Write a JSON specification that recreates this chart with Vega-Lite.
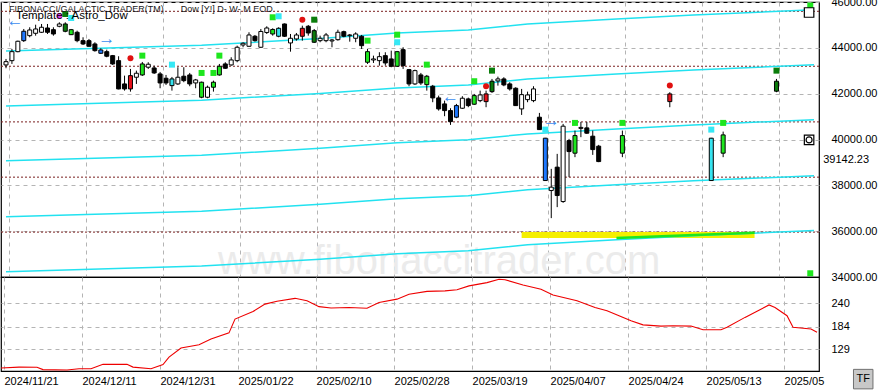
{
  "$schema": "https://vega.github.io/schema/vega-lite/v6.json",
  "background": "white",
  "padding": {"left": -2, "top": -5, "right": 0, "bottom": 0},
  "spacing": 0,
  "bounds": "flush",
  "config": {
    "view": {"stroke": "#000000", "strokeWidth": 1.2},
    "font": "Liberation Sans",
    "text": {"font": "Liberation Sans"},
    "axis": {"labelFont": "Liberation Sans", "labelColor": "#000000", "labelFontSize": 11}
  },
  "datasets": {
    "candles": [
      {"k":0,"t":"up","o":43253,"h":43515,"l":43109,"c":43397},
      {"k":1,"t":"up","o":43441,"h":43951,"l":43297,"c":43833},
      {"k":2,"t":"up","o":43833,"h":44313,"l":43807,"c":44287},
      {"k":3,"t":"blue","o":44313,"h":44823,"l":44256,"c":44723},
      {"k":4,"t":"up","o":44531,"h":44897,"l":44461,"c":44779},
      {"k":5,"t":"up","o":44635,"h":45010,"l":44531,"c":44823},
      {"k":6,"t":"up","o":44679,"h":45041,"l":44648,"c":44897},
      {"k":7,"t":"down","o":44866,"h":45041,"l":44605,"c":44679},
      {"k":8,"t":"down","o":44792,"h":44897,"l":44531,"c":44605},
      {"k":9,"t":"up","o":44941,"h":45115,"l":44897,"c":45041},
      {"k":10,"t":"darkgreen","o":44722,"h":45115,"l":44679,"c":45041},
      {"k":11,"t":"lime","o":44574,"h":44823,"l":44561,"c":44792},
      {"k":12,"t":"down","o":44679,"h":44749,"l":44243,"c":44313},
      {"k":13,"t":"down","o":44313,"h":44461,"l":44125,"c":44169},
      {"k":14,"t":"down","o":44313,"h":44387,"l":44051,"c":44068},
      {"k":15,"t":"down","o":44169,"h":44243,"l":43833,"c":43877},
      {"k":16,"t":"blue","o":43763,"h":43981,"l":43733,"c":43907},
      {"k":17,"t":"down","o":43833,"h":43920,"l":43589,"c":43633},
      {"k":18,"t":"down","o":43659,"h":43689,"l":43253,"c":43297},
      {"k":19,"t":"down","o":43441,"h":43633,"l":42190,"c":42207},
      {"k":20,"t":"down","o":42425,"h":42787,"l":42133,"c":42207},
      {"k":21,"t":"red","o":42787,"h":43079,"l":42089,"c":42207},
      {"k":22,"t":"up","o":42717,"h":43005,"l":42425,"c":42891},
      {"k":23,"t":"lime","o":42817,"h":43384,"l":42774,"c":43297},
      {"k":24,"t":"up","o":43153,"h":43371,"l":43079,"c":43284},
      {"k":25,"t":"down","o":43122,"h":43223,"l":42861,"c":42905},
      {"k":26,"t":"down","o":42861,"h":42948,"l":42237,"c":42468},
      {"k":27,"t":"down","o":42673,"h":42817,"l":42381,"c":42468},
      {"k":28,"t":"cyan","o":42351,"h":42730,"l":42133,"c":42643},
      {"k":29,"t":"up","o":42425,"h":43153,"l":42381,"c":42717},
      {"k":30,"t":"down","o":42761,"h":43153,"l":42499,"c":42569},
      {"k":31,"t":"down","o":42817,"h":42905,"l":42325,"c":42425},
      {"k":32,"t":"up","o":42468,"h":42643,"l":42237,"c":42599},
      {"k":33,"t":"lime","o":41845,"h":42525,"l":41801,"c":42499},
      {"k":34,"t":"up","o":41845,"h":42351,"l":41801,"c":42281},
      {"k":35,"t":"lime","o":42281,"h":42569,"l":42089,"c":42499},
      {"k":36,"t":"lime","o":42817,"h":43297,"l":42787,"c":43196},
      {"k":37,"t":"down","o":43297,"h":43371,"l":43079,"c":43109},
      {"k":38,"t":"up","o":43253,"h":43589,"l":43223,"c":43471},
      {"k":39,"t":"up","o":43441,"h":44095,"l":43371,"c":44025},
      {"k":40,"t":"up","o":44125,"h":44243,"l":44025,"c":44199},
      {"k":41,"t":"up","o":44068,"h":44679,"l":44051,"c":44561},
      {"k":42,"t":"down","o":44505,"h":44561,"l":44269,"c":44313},
      {"k":43,"t":"up","o":44025,"h":44823,"l":43995,"c":44714},
      {"k":44,"t":"up","o":44670,"h":44941,"l":44605,"c":44866},
      {"k":45,"t":"lime","o":44605,"h":44853,"l":44531,"c":44801},
      {"k":46,"t":"cyan","o":44505,"h":44897,"l":44461,"c":44853},
      {"k":47,"t":"down","o":45041,"h":45063,"l":44474,"c":44505},
      {"k":48,"t":"up","o":44213,"h":44605,"l":43833,"c":44417},
      {"k":49,"t":"up","o":44387,"h":44648,"l":44313,"c":44561},
      {"k":50,"t":"red","o":44505,"h":44967,"l":44313,"c":44853},
      {"k":51,"t":"down","o":44941,"h":44997,"l":44531,"c":44648},
      {"k":52,"t":"darkgreen","o":44243,"h":44823,"l":44212,"c":44749},
      {"k":53,"t":"up","o":44313,"h":44531,"l":44243,"c":44417},
      {"k":54,"t":"up","o":44313,"h":44648,"l":44243,"c":44561},
      {"k":55,"t":"up","o":44300,"h":44387,"l":44025,"c":44343},
      {"k":56,"t":"up","o":44356,"h":44792,"l":44313,"c":44679},
      {"k":57,"t":"down","o":44705,"h":44749,"l":44461,"c":44505},
      {"k":58,"t":"up","o":44531,"h":44605,"l":44269,"c":44561},
      {"k":59,"t":"up","o":44417,"h":44679,"l":44243,"c":44605},
      {"k":60,"t":"down","o":44505,"h":44561,"l":43951,"c":44095},
      {"k":61,"t":"lime","o":43371,"h":43951,"l":43297,"c":43833},
      {"k":62,"t":"up","o":43471,"h":43659,"l":43340,"c":43515},
      {"k":63,"t":"up","o":43441,"h":43807,"l":43223,"c":43615},
      {"k":64,"t":"down","o":43659,"h":43807,"l":43223,"c":43340},
      {"k":65,"t":"down","o":43515,"h":43877,"l":43153,"c":43196},
      {"k":66,"t":"lime","o":43196,"h":43864,"l":43166,"c":43833},
      {"k":67,"t":"down","o":43920,"h":44025,"l":43079,"c":43223},
      {"k":68,"t":"down","o":43048,"h":43079,"l":42325,"c":42425},
      {"k":69,"t":"up","o":42425,"h":43048,"l":42381,"c":43005},
      {"k":70,"t":"down","o":42817,"h":42905,"l":42381,"c":42468},
      {"k":71,"t":"lime","o":42394,"h":42817,"l":42133,"c":42761},
      {"k":72,"t":"down","o":42325,"h":42381,"l":41627,"c":41815},
      {"k":73,"t":"down","o":41815,"h":41915,"l":41261,"c":41335},
      {"k":74,"t":"down","o":41553,"h":41697,"l":41017,"c":41261},
      {"k":75,"t":"down","o":41261,"h":41365,"l":40637,"c":40781},
      {"k":76,"t":"blue","o":40973,"h":41553,"l":40929,"c":41479},
      {"k":77,"t":"up","o":41365,"h":41889,"l":41335,"c":41801},
      {"k":78,"t":"down","o":41771,"h":41827,"l":41409,"c":41479},
      {"k":79,"t":"lime","o":41540,"h":41989,"l":41509,"c":41915},
      {"k":80,"t":"up","o":41697,"h":42133,"l":41627,"c":41945},
      {"k":81,"t":"red","o":41653,"h":42133,"l":41409,"c":41989},
      {"k":82,"t":"darkgreen","o":42089,"h":42643,"l":42032,"c":42543},
      {"k":83,"t":"up","o":42556,"h":42743,"l":42351,"c":42643},
      {"k":84,"t":"down","o":42643,"h":42717,"l":42325,"c":42381},
      {"k":85,"t":"down","o":42425,"h":42499,"l":42133,"c":42207},
      {"k":86,"t":"down","o":42237,"h":42281,"l":41466,"c":41479},
      {"k":87,"t":"up","o":41335,"h":42207,"l":41073,"c":41958},
      {"k":88,"t":"up","o":41740,"h":42089,"l":41627,"c":41945},
      {"k":89,"t":"up","o":41697,"h":42325,"l":41627,"c":42207},
      {"k":90,"t":"down","o":40973,"h":41160,"l":40420,"c":40432},
      {"k":91,"t":"blue","o":38209,"h":40070,"l":38196,"c":40057},
      {"k":92,"t":"up","o":37773,"h":38719,"l":36569,"c":37921},
      {"k":93,"t":"down","o":38793,"h":39373,"l":37049,"c":37555},
      {"k":94,"t":"up","o":37293,"h":40681,"l":37237,"c":40581},
      {"k":95,"t":"down","o":39953,"h":40027,"l":38357,"c":39473},
      {"k":96,"t":"lime","o":39403,"h":40389,"l":39229,"c":40171},
      {"k":97,"t":"up","o":40485,"h":40768,"l":40101,"c":40528},
      {"k":98,"t":"down","o":40507,"h":40768,"l":40245,"c":40275},
      {"k":99,"t":"down","o":40145,"h":40389,"l":39329,"c":39560},
      {"k":100,"t":"down","o":39709,"h":39765,"l":39011,"c":39037},
      {"k":104,"t":"lime","o":39403,"h":40389,"l":39229,"c":40171},
      {"k":112,"t":"red","o":41653,"h":42063,"l":41409,"c":41989},
      {"k":119,"t":"cyan","o":38209,"h":40070,"l":38196,"c":40057},
      {"k":121,"t":"lime","o":39403,"h":40345,"l":39229,"c":40201},
      {"k":130,"t":"darkgreen","o":42107,"h":42643,"l":42063,"c":42543}
    ],
    "markers": [
      {"k":9,"p":45390,"m":"magenta"},
      {"k":10,"p":45477,"m":"darkgreen"},
      {"k":11,"p":45302,"m":"cyan"},
      {"k":21,"p":43545,"m":"red"},
      {"k":23,"p":43659,"m":"lime"},
      {"k":28,"p":43266,"m":"cyan"},
      {"k":33,"p":42904,"m":"lime"},
      {"k":35,"p":42904,"m":"lime"},
      {"k":36,"p":43659,"m":"lime"},
      {"k":45,"p":45333,"m":"lime"},
      {"k":46,"p":45377,"m":"cyan"},
      {"k":50,"p":45228,"m":"red"},
      {"k":52,"p":45228,"m":"darkgreen"},
      {"k":61,"p":44313,"m":"lime"},
      {"k":66,"p":44574,"m":"lime"},
      {"k":66,"p":44243,"m":"cyan"},
      {"k":71,"p":43266,"m":"lime"},
      {"k":79,"p":42543,"m":"lime"},
      {"k":81,"p":42325,"m":"red"},
      {"k":82,"p":43005,"m":"darkgreen"},
      {"k":91,"p":40432,"m":"cyan"},
      {"k":96,"p":40724,"m":"lime"},
      {"k":104,"p":40724,"m":"lime"},
      {"k":112,"p":42351,"m":"red"},
      {"k":119,"p":40432,"m":"cyan"},
      {"k":121,"p":40724,"m":"lime"},
      {"k":130,"p":43005,"m":"darkgreen"},
      {"k":135.7,"p":45847,"m":"limebig"},
      {"k":135.7,"p":34163,"m":"limebig"}
    ],
    "icons": [
      {"k":135.5,"p":45542,"icon":"box"},
      {"k":135.5,"p":39983,"icon":"box"},
      {"k":135.5,"p":39983,"icon":"ring"}
    ],
    "arrows": [
      {"k":1.5,"p":45172,"g":"←"},
      {"k":17,"p":44387,"g":"→"},
      {"k":75,"p":41858,"g":"←"},
      {"k":92,"p":40825,"g":"→"}
    ],
    "levels": [
      {"p":45594},{"p":43197},{"p":40768},{"p":38357},{"p":35959}
    ],
    "channels": [
      {"line":"L1","k":0,"p":43864},{"line":"L1","k":33,"p":44112},{"line":"L1","k":53,"p":44409},{"line":"L1","k":66,"p":44649},{"line":"L1","k":78,"p":44780},{"line":"L1","k":88,"p":45041},{"line":"L1","k":103,"p":45259},{"line":"L1","k":116,"p":45434},{"line":"L1","k":136.33,"p":45660},
      {"line":"L2","k":0,"p":41466},{"line":"L2","k":33,"p":41714},{"line":"L2","k":53,"p":42011},{"line":"L2","k":66,"p":42251},{"line":"L2","k":78,"p":42382},{"line":"L2","k":88,"p":42643},{"line":"L2","k":103,"p":42861},{"line":"L2","k":116,"p":43036},{"line":"L2","k":136.33,"p":43262},
      {"line":"L3","k":0,"p":39068},{"line":"L3","k":33,"p":39316},{"line":"L3","k":53,"p":39613},{"line":"L3","k":66,"p":39853},{"line":"L3","k":78,"p":39984},{"line":"L3","k":88,"p":40245},{"line":"L3","k":103,"p":40463},{"line":"L3","k":116,"p":40638},{"line":"L3","k":136.33,"p":40864},
      {"line":"L4","k":0,"p":36626},{"line":"L4","k":33,"p":36874},{"line":"L4","k":53,"p":37171},{"line":"L4","k":66,"p":37411},{"line":"L4","k":78,"p":37542},{"line":"L4","k":88,"p":37803},{"line":"L4","k":103,"p":38021},{"line":"L4","k":116,"p":38196},{"line":"L4","k":136.33,"p":38422},
      {"line":"L5","k":0,"p":34228},{"line":"L5","k":33,"p":34476},{"line":"L5","k":53,"p":34773},{"line":"L5","k":66,"p":35013},{"line":"L5","k":78,"p":35144},{"line":"L5","k":88,"p":35405},{"line":"L5","k":103,"p":35623},{"line":"L5","k":116,"p":35798},{"line":"L5","k":136.33,"p":36024}
    ],
    "band": [{"k1":87,"k2":126.3,"p1":35698,"p2":35959}],
    "greenseg": [{"k":103,"p":35698},{"k":115,"p":35820},{"k":126.3,"p":35930}],
    "osc": [
      {"k":0,"v":84},{"k":3,"v":86},{"k":6,"v":85.6},{"k":7,"v":80},{"k":11,"v":79},{"k":13,"v":82},{"k":15,"v":82},{"k":17,"v":92.7},{"k":21,"v":92.7},{"k":22,"v":86},{"k":25,"v":82},{"k":27,"v":92},{"k":28,"v":110},{"k":30,"v":132},{"k":33,"v":140},{"k":35,"v":154},{"k":38,"v":168.7},{"k":39,"v":202},{"k":42,"v":220},{"k":44,"v":238},{"k":46,"v":244.8},{"k":49,"v":252},{"k":51,"v":246},{"k":53,"v":232},{"k":55,"v":228.7},{"k":58,"v":230},{"k":61,"v":228},{"k":63,"v":242},{"k":66,"v":250},{"k":68,"v":262},{"k":71,"v":268.8},{"k":74,"v":270},{"k":76,"v":272.7},{"k":78,"v":282},{"k":81,"v":290},{"k":83,"v":298},{"k":84,"v":297},{"k":87,"v":284},{"k":90,"v":274},{"k":92,"v":260},{"k":96,"v":246},{"k":99,"v":230},{"k":101,"v":222},{"k":103,"v":210},{"k":105,"v":198},{"k":107,"v":188},{"k":110,"v":185},{"k":112,"v":186},{"k":115,"v":185},{"k":117,"v":176},{"k":120,"v":176},{"k":121,"v":182},{"k":124,"v":206},{"k":128,"v":236},{"k":129,"v":230},{"k":131,"v":210},{"k":132,"v":182},{"k":135,"v":178},{"k":136,"v":170}
    ]
  },
  "vconcat": [
    {
      "width": 818,
      "height": 275,
      "resolve": {"scale": {"fill": "independent", "shape": "independent", "size": "independent", "strokeWidth": "independent"}},
      "encoding": {
        "x": {"type": "quantitative", "scale": {"domain": [0, 136.33], "nice": false, "zero": false},
          "axis": {"orient": "bottom", "title": null, "labels": false, "ticks": false, "domain": false, "grid": true, "gridColor": "#b4b4b4", "gridDash": [4, 4], "values": [0.5, 13.5, 26.5, 39.5, 52.5, 65.5, 78.5, 91.5, 104.5, 117.5, 130.5]}},
        "y": {"type": "quantitative", "scale": {"domain": [34000, 46000], "nice": false, "zero": false},
          "axis": {"orient": "right", "title": null, "values": [34000, 36000, 38000, 40000, 42000, 44000, 46000], "format": ".2f", "ticks": false, "domain": false, "labelPadding": 12, "grid": true, "gridColor": "#b4b4b4", "gridDash": [4, 4]}}
      },
      "layer": [
        {
          "data": {"values": [{}]},
          "mark": {"type": "text", "text": "www.fibonaccitrader.com", "fontSize": 40, "color": "#ebebeb", "align": "center", "baseline": "alphabetic", "clip": true},
          "encoding": {"x": {"datum": 73.08}, "y": {"datum": 34141}}
        },
        {
          "data": {"name": "levels"},
          "mark": {"type": "rule", "color": "#7a1f1f", "strokeDash": [2, 2], "strokeWidth": 1},
          "encoding": {"x": null, "y": {"field": "p", "type": "quantitative"}}
        },
        {
          "data": {"name": "band"},
          "mark": {"type": "rect", "color": "#f5ef00"},
          "encoding": {"x": {"field": "k1", "type": "quantitative"}, "x2": {"field": "k2"}, "y": {"field": "p1", "type": "quantitative"}, "y2": {"field": "p2"}}
        },
        {
          "data": {"name": "channels"},
          "mark": {"type": "line", "color": "#22e2f0", "clip": true},
          "encoding": {
            "x": {"field": "k", "type": "quantitative"},
            "y": {"field": "p", "type": "quantitative"},
            "detail": {"field": "line"},
            "strokeWidth": {"field": "line", "type": "nominal", "scale": {"domain": ["L1", "L2", "L3", "L4", "L5"], "range": [1.5, 1.5, 1.5, 1.5, 2.5]}, "legend": null}
          }
        },
        {
          "data": {"name": "greenseg"},
          "mark": {"type": "line", "color": "#1ee61e", "strokeWidth": 2.5},
          "encoding": {"x": {"field": "k", "type": "quantitative"}, "y": {"field": "p", "type": "quantitative"}}
        },
        {
          "data": {"name": "candles"},
          "mark": {"type": "rule", "color": "#000000", "strokeWidth": 1, "clip": true},
          "encoding": {"x": {"field": "k", "type": "quantitative"}, "y": {"field": "l", "type": "quantitative"}, "y2": {"field": "h"}}
        },
        {
          "data": {"name": "candles"},
          "mark": {"type": "bar", "size": 4, "stroke": "#000000", "strokeWidth": 1, "clip": true},
          "encoding": {
            "x": {"field": "k", "type": "quantitative"},
            "y": {"field": "o", "type": "quantitative"},
            "y2": {"field": "c"},
            "fill": {"field": "t", "type": "nominal", "scale": {"domain": ["up", "down", "lime", "darkgreen", "red", "blue", "cyan"], "range": ["#ffffff", "#000000", "#1ee61e", "#0b7a0b", "#e8101a", "#1e78ff", "#36e4f0"]}, "legend": null}
          }
        },
        {
          "data": {"name": "markers"},
          "mark": {"type": "point", "filled": true, "opacity": 1, "clip": true},
          "encoding": {
            "x": {"field": "k", "type": "quantitative"},
            "y": {"field": "p", "type": "quantitative"},
            "fill": {"field": "m", "type": "nominal", "scale": {"domain": ["lime", "cyan", "darkgreen", "red", "magenta", "limebig"], "range": ["#1ee61e", "#36e8f5", "#0b7d0b", "#e01010", "#e040e0", "#1ee61e"]}, "legend": null},
            "shape": {"field": "m", "type": "nominal", "scale": {"domain": ["lime", "cyan", "darkgreen", "red", "magenta", "limebig"], "range": ["square", "square", "square", "circle", "circle", "square"]}, "legend": null},
            "size": {"field": "m", "type": "nominal", "scale": {"domain": ["lime", "cyan", "darkgreen", "red", "magenta", "limebig"], "range": [36, 36, 36, 10, 25, 64]}, "legend": null}
          }
        },
        {
          "data": {"name": "icons"},
          "mark": {"type": "point", "filled": true, "fill": "#ffffff", "stroke": "#000000", "strokeWidth": 1.2, "opacity": 1, "clip": true},
          "encoding": {
            "x": {"field": "k", "type": "quantitative"},
            "y": {"field": "p", "type": "quantitative"},
            "shape": {"field": "icon", "type": "nominal", "scale": {"domain": ["box", "ring"], "range": ["square", "circle"]}, "legend": null},
            "size": {"field": "icon", "type": "nominal", "scale": {"domain": ["box", "ring"], "range": [90, 36]}, "legend": null}
          }
        },
        {
          "data": {"name": "arrows"},
          "mark": {"type": "text", "fontSize": 17, "color": "#3d8ef0", "align": "center", "baseline": "middle", "clip": true},
          "encoding": {"x": {"field": "k", "type": "quantitative"}, "y": {"field": "p", "type": "quantitative"}, "text": {"field": "g"}}
        },
        {
          "data": {"values": [{}]},
          "mark": {"type": "text", "text": "FIBONACCI/GALACTIC TRADER(TM)", "fontSize": 9, "color": "#1a1a1a", "align": "left", "baseline": "middle"},
          "encoding": {"x": {"datum": 0.5}, "y": {"datum": 45695}}
        },
        {
          "data": {"values": [{}]},
          "mark": {"type": "text", "text": "Dow [Y!] D- W- M EOD", "fontSize": 9, "color": "#1a1a1a", "align": "left", "baseline": "middle"},
          "encoding": {"x": {"datum": 29.5}, "y": {"datum": 45695}}
        },
        {
          "data": {"values": [{}]},
          "mark": {"type": "text", "text": "Template : Astro_Dow", "fontSize": 11.5, "color": "#000000", "align": "left", "baseline": "middle"},
          "encoding": {"x": {"datum": 1.67}, "y": {"datum": 45368}}
        },
        {
          "data": {"values": [{}]},
          "mark": {"type": "text", "text": "39142.23", "fontSize": 11, "color": "#000000", "align": "center", "baseline": "middle"},
          "encoding": {"x": {"datum": 141.75}, "y": {"datum": 39110}}
        }
      ]
    },
    {
      "width": 818,
      "height": 94,
      "encoding": {
        "x": {"type": "quantitative", "scale": {"domain": [0, 136.33], "nice": false, "zero": false},
          "axis": {"orient": "bottom", "title": null, "ticks": false, "domain": false, "grid": true, "gridColor": "#b4b4b4", "gridDash": [4, 4], "labelAlign": "left", "labelPadding": 4, "labelFlush": false, "labelOverlap": false,
            "values": [0.5, 13.5, 26.5, 39.5, 52.5, 65.5, 78.5, 91.5, 104.5, 117.5, 130.5],
            "labelExpr": "['2024/11/21','2024/12/11','2024/12/31','2025/01/22','2025/02/10','2025/02/28','2025/03/19','2025/04/07','2025/04/24','2025/05/13','2025/05'][round((datum.value - 0.5) / 13)]"}},
        "y": {"type": "quantitative", "scale": {"domain": [76.6, 303.5], "nice": false, "zero": false},
          "axis": {"orient": "right", "title": null, "values": [129, 184, 240], "format": "d", "ticks": false, "domain": false, "labelPadding": 12, "grid": true, "gridColor": "#b4b4b4", "gridDash": [4, 4]}}
      },
      "layer": [
        {
          "data": {"name": "osc"},
          "mark": {"type": "line", "color": "#ee0000", "strokeWidth": 1.1},
          "encoding": {"x": {"field": "k", "type": "quantitative"}, "y": {"field": "v", "type": "quantitative"}}
        },
        {
          "data": {"values": [{}]},
          "mark": {"type": "point", "shape": "square", "size": 380, "filled": true, "fill": "#c8c8c8", "stroke": "#707070", "strokeWidth": 1, "opacity": 1},
          "encoding": {"x": {"datum": 143.7}, "y": {"datum": 57}}
        },
        {
          "data": {"values": [{}]},
          "mark": {"type": "text", "text": "TF", "fontSize": 11, "color": "#000000", "align": "center", "baseline": "middle"},
          "encoding": {"x": {"datum": 143.7}, "y": {"datum": 57}}
        }
      ]
    }
  ]
}
